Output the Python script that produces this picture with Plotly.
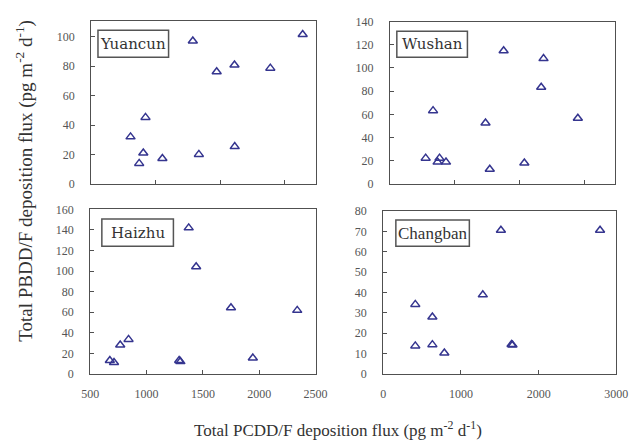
import plotly.graph_objects as go

# ---- data ----
yuancun_x = [805, 921, 904, 872, 1052, 1288, 1335, 1473, 1611, 1613, 1889, 2140]
yuancun_y = [32.1, 45.3, 21.1, 14.1, 17.4, 97.1, 20.2, 76.3, 80.9, 25.5, 78.7, 101.5]

wushan_x = [775, 832, 867, 882, 932, 1237, 1270, 1377, 1537, 1667, 1685, 1950]
wushan_y = [22.4, 63.3, 19.0, 22.4, 19.0, 52.6, 12.9, 114.8, 18.2, 83.4, 108.1, 56.8]

haizhu_x = [674, 711, 766, 840, 1289, 1300, 1374, 1440, 1749, 1943, 2337]
haizhu_y = [13.0, 11.1, 28.2, 33.6, 13.0, 12.0, 142.0, 104.2, 64.3, 15.5, 61.8]

changban_x = [412, 412, 632, 632, 786, 1281, 1514, 1651, 1663, 2790]
changban_y = [34.2, 13.8, 28.0, 14.4, 10.3, 38.9, 70.7, 14.5, 14.2, 70.7]

site_names = ["Yuancun", "Wushan", "Haizhu", "Changban"]
x_title = "Total PCDD/F deposition flux (pg m<sup>-2</sup> d<sup>-1</sup>)"
y_title = "Total PBDD/F deposition flux (pg m<sup>-2</sup> d<sup>-1</sup>)"

W, H = 639, 440
def px(x):
    return x / W
def py(y):
    return 1 - y / H

# panel boxes in pixels: (left, top, right, bottom)
panels = [
    (85, 14, 317, 183),
    (394, 15, 627, 183),
    (84, 209, 317, 379),
    (387, 211, 628, 379),
]
xranges = [[500, 2240], [500, 2240], [500, 2500], [0, 3000]]
xdtick = [500, 500, 500, 1000]
showxlabels = [False, False, True, True]
yranges = [[0, 111], [0, 140], [0, 160], [0, 80]]
ydtick = [20, 20, 20, 10]
label_boxes = [
    (92, 24, 165, 52),
    (401, 25, 474, 52),
    (96, 219, 170, 247),
    (400, 220, 476, 247),
]
label_fonts = ["DejaVu Serif", "DejaVu Serif", "DejaVu Serif", "Liberation Serif"]
label_sizes = [15, 15, 15, 17]

datasets = [(yuancun_x, yuancun_y), (wushan_x, wushan_y),
            (haizhu_x, haizhu_y), (changban_x, changban_y)]

fig = go.Figure()
tick_font = dict(family="Liberation Serif", size=12, color="#555555")
axis_color = "#505050"
layout = dict(
    width=W, height=H,
    margin=dict(l=0, r=0, t=0, b=0),
    paper_bgcolor="white", plot_bgcolor="white",
    showlegend=False,
)
shapes = []
annotations = []
for i, ((xs, ys), (l, t, r, b)) in enumerate(zip(datasets, panels)):
    n = i + 1
    xa = "x" if n == 1 else f"x{n}"
    ya = "y" if n == 1 else f"y{n}"
    fig.add_trace(go.Scatter(
        x=xs, y=ys, mode="markers", xaxis=xa, yaxis=ya,
        marker=dict(symbol="triangle-up-open", size=8, color="#35358f",
                    line=dict(width=1.5, color="#35358f")),
    ))
    xkey = "xaxis" if n == 1 else f"xaxis{n}"
    ykey = "yaxis" if n == 1 else f"yaxis{n}"
    layout[xkey] = dict(
        domain=[px(l), px(r)], anchor=ya, range=xranges[i],
        dtick=xdtick[i], tick0=0, ticks="inside", ticklen=4, tickwidth=1,
        tickcolor=axis_color, showticklabels=showxlabels[i],
        tickfont=tick_font, showgrid=False, zeroline=False,
        showline=True, linecolor=axis_color, linewidth=1.3, mirror=True,
        ticklabelstandoff=9,
    )
    layout[ykey] = dict(
        domain=[py(b), py(t)], anchor=xa, range=yranges[i],
        dtick=ydtick[i], tick0=0, ticks="inside", ticklen=4, tickwidth=1,
        tickcolor=axis_color, tickfont=tick_font, showgrid=False,
        zeroline=False, showline=True, linecolor=axis_color, linewidth=1.3,
        mirror=True, ticklabelstandoff=13,
    )
    bl, bt, br, bb = label_boxes[i]
    shapes.append(dict(type="rect", xref="paper", yref="paper",
                       x0=px(bl), x1=px(br), y0=py(bb), y1=py(bt),
                       line=dict(color="#555555", width=1.5),
                       fillcolor="white"))
    annotations.append(dict(text=site_names[i], xref="paper", yref="paper",
                            x=px((bl + br) / 2), y=py((bt + bb) / 2),
                            xanchor="center", yanchor="middle", showarrow=False,
                            font=dict(family=label_fonts[i], size=label_sizes[i],
                                      color="#333333")))

annotations.append(dict(text=x_title, xref="paper", yref="paper",
                        x=px(340), y=py(436), xanchor="center", yanchor="middle",
                        showarrow=False,
                        font=dict(family="Liberation Serif", size=17, color="#333333")))
annotations.append(dict(text=y_title, xref="paper", yref="paper",
                        x=px(16), y=py(179), xanchor="center", yanchor="middle",
                        textangle=-90, showarrow=False,
                        font=dict(family="Liberation Serif", size=19, color="#333333")))

layout["shapes"] = shapes
layout["annotations"] = annotations
fig.update_layout(**layout)
fig.write_html("out.html", config={"displayModeBar": False},
               post_script="document.body.style.margin='0px';document.body.style.overflow='hidden';")
